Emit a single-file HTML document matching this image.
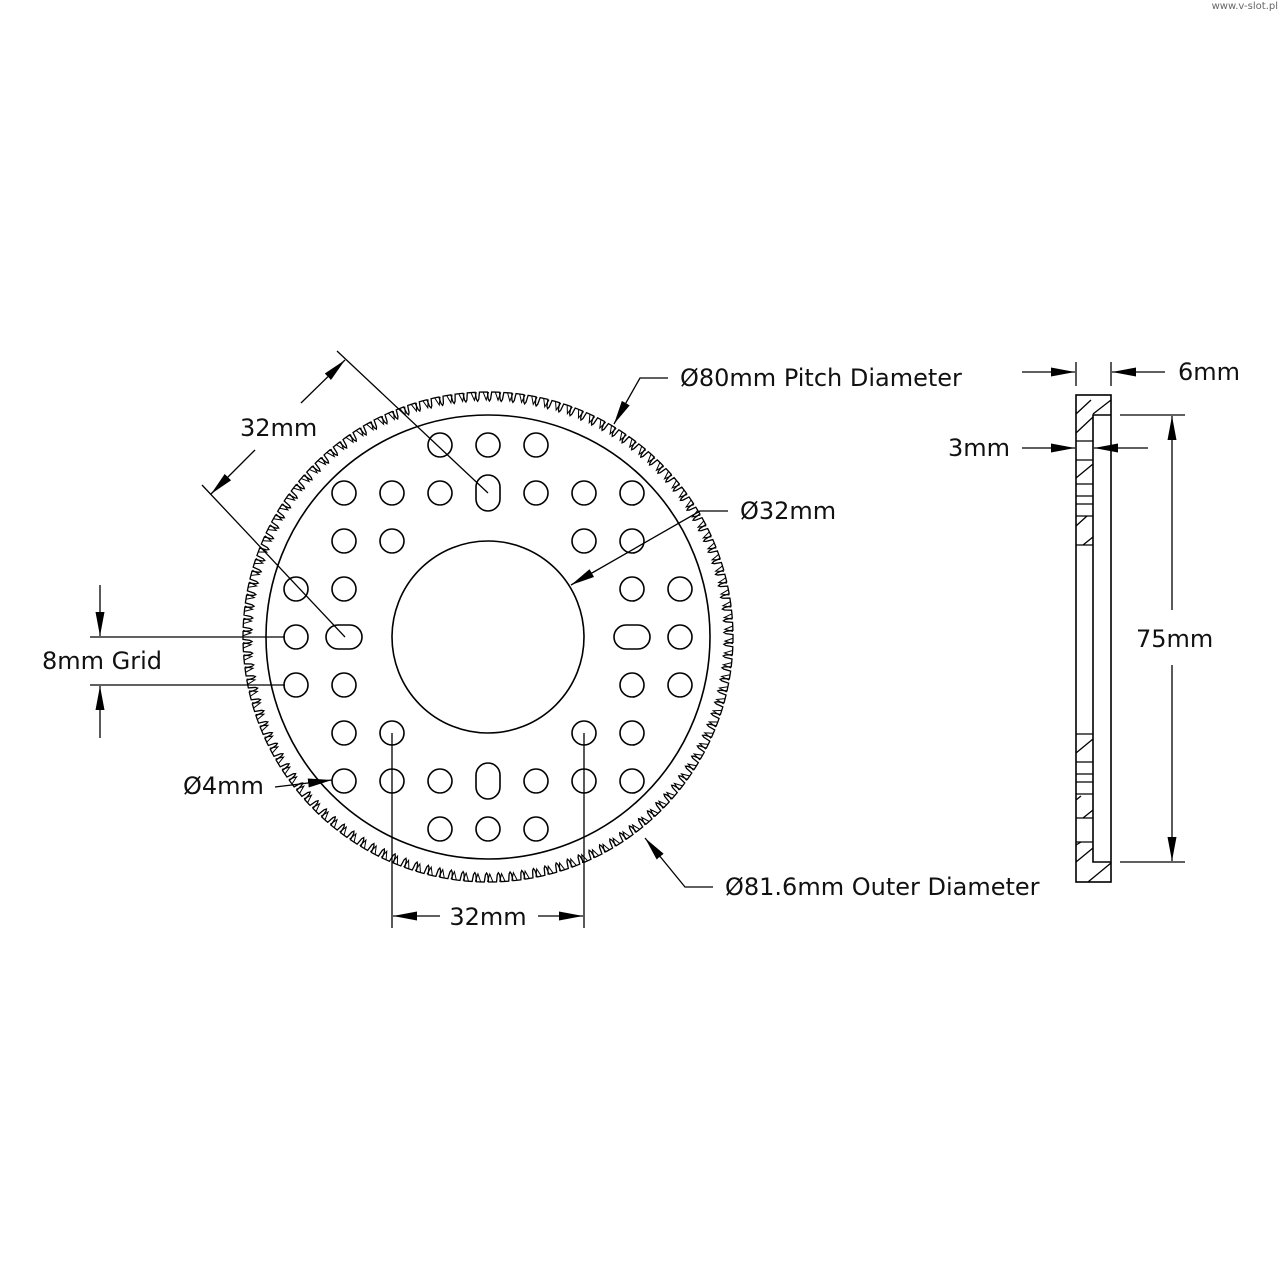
<!DOCTYPE html>
<html><head><meta charset="utf-8"><style>
html,body{margin:0;padding:0;background:#fff;}
svg{display:block;}
text{font-family:"DejaVu Sans","Liberation Sans",sans-serif;font-size:24px;fill:#111;}
</style></head><body>
<svg id="s" width="1280" height="1280" viewBox="0 0 1280 1280" xmlns="http://www.w3.org/2000/svg">
<defs>
<marker id="a" viewBox="0 0 24 9" refX="24" refY="4.5" markerWidth="24" markerHeight="9" markerUnits="userSpaceOnUse" orient="auto"><path d="M0,0 L24,4.5 L0,9 Z" fill="#000"/></marker>
</defs>
<rect width="1280" height="1280" fill="#fff"/>
<text x="1278" y="9" text-anchor="end" style="font-size:10px;fill:#666">www.v-slot.pl</text>
<g fill="none" stroke="#000" stroke-width="1.6">
<path id="teeth" stroke-width="1.3"/>
<path id="zig" stroke-width="1"/>
<circle cx="488" cy="637" r="222"/>
<circle cx="488" cy="637" r="96"/>
<g id="holes"></g>
<rect x="1076" y="395" width="35" height="487"/>
<polyline points="1111,415 1093,415 1093,862 1111,862"/>
<g stroke-width="1.3">
<line x1="1076" y1="441" x2="1093" y2="441"/><line x1="1076" y1="460" x2="1093" y2="460"/>
<line x1="1076" y1="484" x2="1093" y2="484"/><line x1="1076" y1="496" x2="1093" y2="496"/><line x1="1076" y1="504" x2="1093" y2="504"/><line x1="1076" y1="516" x2="1093" y2="516"/>
<line x1="1076" y1="545" x2="1093" y2="545"/>
<line x1="1076" y1="734" x2="1093" y2="734"/><line x1="1076" y1="762" x2="1093" y2="762"/><line x1="1076" y1="774" x2="1093" y2="774"/><line x1="1076" y1="782" x2="1093" y2="782"/><line x1="1076" y1="794" x2="1093" y2="794"/><line x1="1076" y1="818" x2="1093" y2="818"/><line x1="1076" y1="842" x2="1093" y2="842"/>
<line x1="1076" y1="414" x2="1091" y2="400"/><line x1="1093" y1="414" x2="1111" y2="400"/>
<line x1="1076" y1="433" x2="1093" y2="417"/><line x1="1076" y1="478" x2="1093" y2="464"/>
<line x1="1076" y1="526" x2="1087" y2="516"/><line x1="1083" y1="545" x2="1093" y2="537"/>
<line x1="1076" y1="753" x2="1093" y2="739"/><line x1="1076" y1="800" x2="1081" y2="796"/><line x1="1083" y1="818" x2="1093" y2="810"/>
<line x1="1076" y1="845" x2="1081" y2="842"/><line x1="1076" y1="862" x2="1093" y2="848"/><line x1="1088" y1="882" x2="1111" y2="863"/>
</g>
</g>
<g fill="none" stroke="#000" stroke-width="1.3">
<line x1="337" y1="351" x2="488" y2="493"/>
<line x1="202" y1="485" x2="345" y2="637"/>
<line x1="301" y1="403" x2="345" y2="360" marker-end="url(#a)"/>
<line x1="255" y1="450" x2="211" y2="494" marker-end="url(#a)"/>
<polyline points="668,378 640,378 614,424" marker-end="url(#a)"/>
<polyline points="728,511 700,511 571,585" marker-end="url(#a)"/>
<line x1="90" y1="637" x2="285" y2="637"/><line x1="90" y1="685" x2="285" y2="685"/>
<line x1="100" y1="585" x2="100" y2="636" marker-end="url(#a)"/>
<line x1="100" y1="738" x2="100" y2="686" marker-end="url(#a)"/>
<polyline points="275,787 300,784 332,780" marker-end="url(#a)"/>
<line x1="392" y1="733" x2="392" y2="928"/><line x1="584" y1="733" x2="584" y2="928"/>
<line x1="440" y1="916" x2="393" y2="916" marker-end="url(#a)"/>
<line x1="538" y1="916" x2="583" y2="916" marker-end="url(#a)"/>
<polyline points="713,887 685,887 645,838" marker-end="url(#a)"/>
<line x1="1076" y1="362" x2="1076" y2="386"/><line x1="1111" y1="362" x2="1111" y2="386"/>
<line x1="1022" y1="372" x2="1075" y2="372" marker-end="url(#a)"/>
<line x1="1165" y1="372" x2="1112" y2="372" marker-end="url(#a)"/>
<line x1="1022" y1="448" x2="1075" y2="448" marker-end="url(#a)"/>
<line x1="1148" y1="448" x2="1094" y2="448" marker-end="url(#a)"/>
<line x1="1120" y1="415" x2="1185" y2="415"/><line x1="1120" y1="862" x2="1185" y2="862"/>
<line x1="1172" y1="610" x2="1172" y2="416" marker-end="url(#a)"/>
<line x1="1172" y1="665" x2="1172" y2="861" marker-end="url(#a)"/>
</g>
<text x="240" y="436">32mm</text>
<text x="680" y="386">Ø80mm Pitch Diameter</text>
<text x="740" y="519">Ø32mm</text>
<text x="42" y="669">8mm Grid</text>
<text x="183" y="794">Ø4mm</text>
<text x="488" y="925" text-anchor="middle">32mm</text>
<text x="725" y="895">Ø81.6mm Outer Diameter</text>
<text x="1178" y="380">6mm</text>
<text x="948" y="456">3mm</text>
<text x="1136" y="647">75mm</text>
</svg>
<script>
(function(){
var cx=488,cy=637,N=126,Ro=245,Rr=236,d='',z='';
function p(r,a){return (cx+r*Math.cos(a)).toFixed(2)+','+(cy+r*Math.sin(a)).toFixed(2);}
var st=2*Math.PI/N;
for(var i=0;i<N;i++){
 var a=i*st;
 d+=(i==0?'M':'L')+p(Ro,a)+' L'+p(Ro,a+st*0.45)+' L'+p(Rr+2,a+st*0.52)+' L'+p(Rr,a+st*0.62)+' L'+p(Rr+2,a+st*0.72)+' L'+p(Ro,a+st*0.8);
 z+='M'+p(Ro,a+st*0.1)+' L'+p(Rr+1,a+st*0.35)+' L'+p(Ro,a+st*0.55);
}
d+='Z';
document.getElementById('teeth').setAttribute('d',d);
document.getElementById('zig').setAttribute('d',z);
var g=document.getElementById('holes'),ns='http://www.w3.org/2000/svg';
var holes=[[-1,-4],[0,-4],[1,-4],[-3,-3],[-2,-3],[-1,-3],[1,-3],[2,-3],[3,-3],[-3,-2],[-2,-2],[2,-2],[3,-2],
[-4,-1],[-3,-1],[3,-1],[4,-1],[-4,0],[4,0],[-4,1],[-3,1],[3,1],[4,1],[-3,2],[-2,2],[2,2],[3,2],
[-3,3],[-2,3],[-1,3],[1,3],[2,3],[3,3],[-1,4],[0,4],[1,4]];
holes.forEach(function(h){var c=document.createElementNS(ns,'circle');c.setAttribute('cx',cx+h[0]*48);c.setAttribute('cy',cy+h[1]*48);c.setAttribute('r',12);g.appendChild(c);});
function slot(x,y,v){var r=document.createElementNS(ns,'rect');
 if(v){r.setAttribute('x',x-12);r.setAttribute('y',y-18);r.setAttribute('width',24);r.setAttribute('height',36);}
 else{r.setAttribute('x',x-18);r.setAttribute('y',y-12);r.setAttribute('width',36);r.setAttribute('height',24);}
 r.setAttribute('rx',12);r.setAttribute('ry',12);g.appendChild(r);}
slot(cx,cy-144,1);slot(cx,cy+144,1);slot(cx-144,cy,0);slot(cx+144,cy,0);
})();
</script>
</body></html>
